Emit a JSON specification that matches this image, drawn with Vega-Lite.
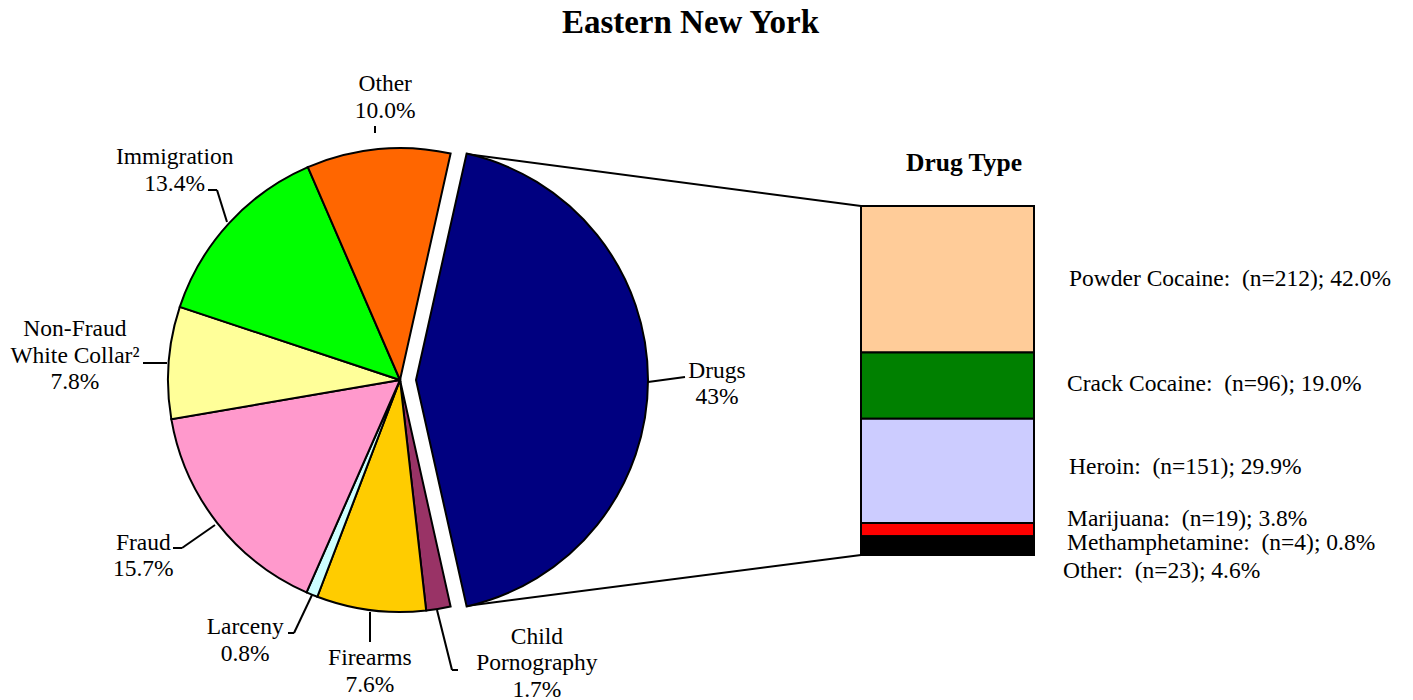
{
  "$schema": "https://vega.github.io/schema/vega-lite/v6.json",
  "width": 1413,
  "height": 650,
  "autosize": {"type": "none"},
  "padding": {"left": 0, "right": 0, "top": 50, "bottom": 0},
  "background": "white",
  "title": {"text": "Eastern New York", "font": "Liberation Serif", "fontSize": 33, "fontWeight": "bold", "color": "black", "anchor": "middle", "dx": -16, "offset": 10},
  "config": {"view": {"stroke": null}, "axis": {"disable": true}, "legend": {"disable": true}},
  "data": {"values": [{}]},
  "datasets": {
    "pie": [
      {"ord": 0, "category": "Drugs", "pct": 43.0, "label": "Drugs\n43%"},
      {"ord": 1, "category": "Child Pornography", "pct": 1.7, "label": "Child\nPornography\n1.7%"},
      {"ord": 2, "category": "Firearms", "pct": 7.6, "label": "Firearms\n7.6%"},
      {"ord": 3, "category": "Larceny", "pct": 0.8, "label": "Larceny\n0.8%"},
      {"ord": 4, "category": "Fraud", "pct": 15.7, "label": "Fraud\n15.7%"},
      {"ord": 5, "category": "Non-Fraud White Collar", "pct": 7.8, "label": "Non-Fraud\nWhite Collar²\n7.8%"},
      {"ord": 6, "category": "Immigration", "pct": 13.4, "label": "Immigration\n13.4%"},
      {"ord": 7, "category": "Other", "pct": 10.0, "label": "Other\n10.0%"}
    ],
    "drugs": [
      {"ord": 0, "type": "Powder Cocaine", "n": 212, "pct": 42.0},
      {"ord": 1, "type": "Crack Cocaine", "n": 96, "pct": 19.0},
      {"ord": 2, "type": "Heroin", "n": 151, "pct": 29.9},
      {"ord": 3, "type": "Marijuana", "n": 19, "pct": 3.8},
      {"ord": 4, "type": "Methamphetamine", "n": 4, "pct": 0.8},
      {"ord": 5, "type": "Other", "n": 23, "pct": 4.6}
    ]
  },
  "layer": [
    {"mark": {"type": "rule", "color": "black", "strokeWidth": 2}, "encoding": {"x": {"datum": 466, "scale": {"domain": [0, 1413]}}, "y": {"datum": 154, "scale": {"domain": [50, 700], "reverse": true}}, "x2": {"datum": 861}, "y2": {"datum": 206}}},
    {"mark": {"type": "rule", "color": "black", "strokeWidth": 2}, "encoding": {"x": {"datum": 466, "scale": {"domain": [0, 1413]}}, "y": {"datum": 606, "scale": {"domain": [50, 700], "reverse": true}}, "x2": {"datum": 861}, "y2": {"datum": 555}}},
    {
      "data": {"name": "pie"},
      "transform": [{"stack": "pct", "groupby": [], "sort": [{"field": "ord"}], "as": ["s0", "s1"]}, {"filter": "datum.category != 'Drugs'"}],
      "mark": {"type": "arc", "radius": 232, "stroke": "black", "strokeWidth": 2},
      "encoding": {
        "x": {"datum": 400, "scale": {"domain": [0, 1413]}},
        "y": {"datum": 380, "scale": {"domain": [50, 700], "reverse": true}},
        "theta": {"field": "s0", "type": "quantitative", "scale": {"domain": [0, 100], "range": [0.2199, 6.5031]}},
        "theta2": {"field": "s1"},
        "color": {"field": "category", "type": "nominal", "scale": {"domain": ["Drugs", "Child Pornography", "Firearms", "Larceny", "Fraud", "Non-Fraud White Collar", "Immigration", "Other"], "range": ["#000080", "#993366", "#FFCC00", "#CCFFFF", "#FF99CC", "#FFFF99", "#00FF00", "#FF6600"]}, "legend": null}
      }
    },
    {
      "data": {"name": "pie"},
      "transform": [{"stack": "pct", "groupby": [], "sort": [{"field": "ord"}], "as": ["s0", "s1"]}, {"filter": "datum.category == 'Drugs'"}],
      "mark": {"type": "arc", "radius": 232, "stroke": "black", "strokeWidth": 2},
      "encoding": {
        "x": {"datum": 416, "scale": {"domain": [0, 1413]}},
        "y": {"datum": 380, "scale": {"domain": [50, 700], "reverse": true}},
        "theta": {"field": "s0", "type": "quantitative", "scale": {"domain": [0, 100], "range": [0.2199, 6.5031]}},
        "theta2": {"field": "s1"},
        "color": {"field": "category", "type": "nominal", "scale": {"domain": ["Drugs", "Child Pornography", "Firearms", "Larceny", "Fraud", "Non-Fraud White Collar", "Immigration", "Other"], "range": ["#000080", "#993366", "#FFCC00", "#CCFFFF", "#FF99CC", "#FFFF99", "#00FF00", "#FF6600"]}, "legend": null}
      }
    },
    {"mark": {"type": "rule", "color": "black", "strokeWidth": 2}, "encoding": {"x": {"datum": 375, "scale": {"domain": [0, 1413]}}, "y": {"datum": 126, "scale": {"domain": [50, 700], "reverse": true}}, "x2": {"datum": 375}, "y2": {"datum": 133}}},
    {"mark": {"type": "rule", "color": "black", "strokeWidth": 2}, "encoding": {"x": {"datum": 208, "scale": {"domain": [0, 1413]}}, "y": {"datum": 190, "scale": {"domain": [50, 700], "reverse": true}}, "x2": {"datum": 217}, "y2": {"datum": 190}}},
    {"mark": {"type": "rule", "color": "black", "strokeWidth": 2}, "encoding": {"x": {"datum": 217, "scale": {"domain": [0, 1413]}}, "y": {"datum": 190, "scale": {"domain": [50, 700], "reverse": true}}, "x2": {"datum": 227}, "y2": {"datum": 222}}},
    {"mark": {"type": "rule", "color": "black", "strokeWidth": 2}, "encoding": {"x": {"datum": 143, "scale": {"domain": [0, 1413]}}, "y": {"datum": 363, "scale": {"domain": [50, 700], "reverse": true}}, "x2": {"datum": 167}, "y2": {"datum": 363}}},
    {"mark": {"type": "rule", "color": "black", "strokeWidth": 2}, "encoding": {"x": {"datum": 173, "scale": {"domain": [0, 1413]}}, "y": {"datum": 548, "scale": {"domain": [50, 700], "reverse": true}}, "x2": {"datum": 182}, "y2": {"datum": 548}}},
    {"mark": {"type": "rule", "color": "black", "strokeWidth": 2}, "encoding": {"x": {"datum": 182, "scale": {"domain": [0, 1413]}}, "y": {"datum": 548, "scale": {"domain": [50, 700], "reverse": true}}, "x2": {"datum": 215}, "y2": {"datum": 525}}},
    {"mark": {"type": "rule", "color": "black", "strokeWidth": 2}, "encoding": {"x": {"datum": 288, "scale": {"domain": [0, 1413]}}, "y": {"datum": 633, "scale": {"domain": [50, 700], "reverse": true}}, "x2": {"datum": 294}, "y2": {"datum": 633}}},
    {"mark": {"type": "rule", "color": "black", "strokeWidth": 2}, "encoding": {"x": {"datum": 294, "scale": {"domain": [0, 1413]}}, "y": {"datum": 633, "scale": {"domain": [50, 700], "reverse": true}}, "x2": {"datum": 312}, "y2": {"datum": 595}}},
    {"mark": {"type": "rule", "color": "black", "strokeWidth": 2}, "encoding": {"x": {"datum": 370, "scale": {"domain": [0, 1413]}}, "y": {"datum": 612, "scale": {"domain": [50, 700], "reverse": true}}, "x2": {"datum": 370}, "y2": {"datum": 642}}},
    {"mark": {"type": "rule", "color": "black", "strokeWidth": 2}, "encoding": {"x": {"datum": 437, "scale": {"domain": [0, 1413]}}, "y": {"datum": 610, "scale": {"domain": [50, 700], "reverse": true}}, "x2": {"datum": 452}, "y2": {"datum": 670}}},
    {"mark": {"type": "rule", "color": "black", "strokeWidth": 2}, "encoding": {"x": {"datum": 452, "scale": {"domain": [0, 1413]}}, "y": {"datum": 670, "scale": {"domain": [50, 700], "reverse": true}}, "x2": {"datum": 458}, "y2": {"datum": 670}}},
    {"mark": {"type": "rule", "color": "black", "strokeWidth": 2}, "encoding": {"x": {"datum": 648, "scale": {"domain": [0, 1413]}}, "y": {"datum": 382, "scale": {"domain": [50, 700], "reverse": true}}, "x2": {"datum": 685}, "y2": {"datum": 377}}},
    {
      "data": {"name": "pie"},
      "transform": [{"stack": "pct", "groupby": [], "sort": [{"field": "ord"}], "as": ["s0", "s1"]}, {"calculate": "(datum.s0 + datum.s1) / 2", "as": "mid"}],
      "mark": {
        "type": "text", "font": "Liberation Serif", "fontSize": 23.5, "lineBreak": "\n", "lineHeight": 26.5, "align": "center", "baseline": "middle", "color": "black",
        "radius": {"expr": "[317, 314, 293, 303, 311, 326, 308, 283][datum.ord]"},
        "thetaOffset": {"expr": "[0.012, -0.2845, -0.0227, 0.1466, 0.0628, 0, 0.0087, 0.0419][datum.ord]"},
        "dy": {"expr": "[-13, -26, -13, -13, -13, -26, -13, -13][datum.ord]"}
      },
      "encoding": {
        "x": {"datum": 400, "scale": {"domain": [0, 1413]}},
        "y": {"datum": 380, "scale": {"domain": [50, 700], "reverse": true}},
        "theta": {"field": "mid", "type": "quantitative", "stack": null, "scale": {"domain": [0, 100], "range": [0.2199, 6.5031]}},
        "text": {"field": "label"}
      }
    },
    {
      "data": {"name": "drugs"},
      "transform": [{"stack": "pct", "groupby": [], "sort": [{"field": "ord"}], "as": ["s0", "s1"]}],
      "mark": {"type": "bar", "stroke": "black", "strokeWidth": 2},
      "encoding": {
        "x": {"datum": 861, "scale": {"domain": [0, 1413]}},
        "x2": {"datum": 1034},
        "y": {"field": "s0", "type": "quantitative", "scale": {"domain": [-44.74, 141.69], "reverse": true}},
        "y2": {"field": "s1"},
        "color": {"field": "type", "type": "nominal", "scale": {"domain": ["Powder Cocaine", "Crack Cocaine", "Heroin", "Marijuana", "Methamphetamine", "Other"], "range": ["#FFCC99", "#008000", "#CCCCFF", "#FF0000", "#000000", "#000000"]}, "legend": null}
      }
    },
    {
      "data": {"name": "drugs"},
      "transform": [
        {"stack": "pct", "groupby": [], "sort": [{"field": "ord"}], "as": ["s0", "s1"]},
        {"calculate": "(datum.s0 + datum.s1) / 2", "as": "mid"},
        {"calculate": "datum.type + ':\u00a0 (n=' + datum.n + '); ' + format(datum.pct, '.1f') + '%'", "as": "label"}
      ],
      "mark": {
        "type": "text", "font": "Liberation Serif", "fontSize": 23.5, "align": "left", "baseline": "middle", "color": "black",
        "dx": {"expr": "[2, 0, 2, 0, 0, -4][datum.ord]"},
        "dy": {"expr": "[0, -2, -4, -11, 5, 24][datum.ord]"}
      },
      "encoding": {
        "x": {"datum": 1067, "scale": {"domain": [0, 1413]}},
        "y": {"field": "mid", "type": "quantitative", "scale": {"domain": [-44.74, 141.69], "reverse": true}},
        "text": {"field": "label"}
      }
    },
    {
      "mark": {"type": "text", "font": "Liberation Serif", "fontSize": 25.5, "fontWeight": "bold", "align": "center", "baseline": "middle", "color": "black"},
      "encoding": {
        "x": {"datum": 964, "scale": {"domain": [0, 1413]}},
        "y": {"datum": 163, "scale": {"domain": [50, 700], "reverse": true}},
        "text": {"value": "Drug Type"}
      }
    }
  ],
  "resolve": {"scale": {"y": "independent", "color": "independent"}}
}
